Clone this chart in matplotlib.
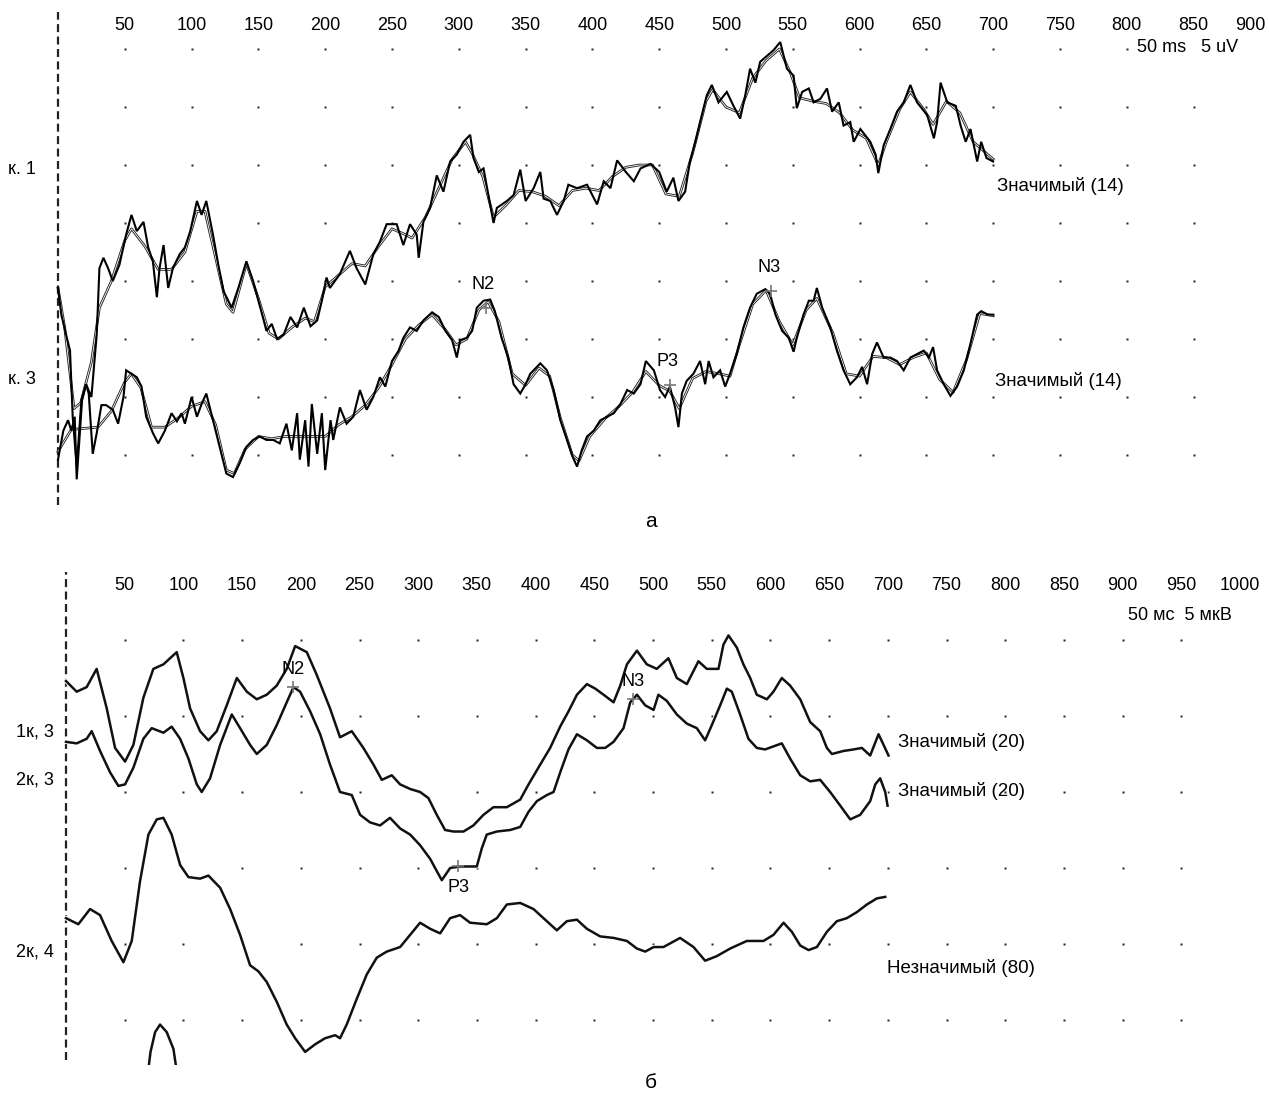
import matplotlib
matplotlib.use("Agg")
import matplotlib.pyplot as plt
import numpy as np

plt.rcParams['font.family'] = ['Liberation Sans', 'DejaVu Sans']

# ---- panel a: time ticks (ms) and grid
top_ticks = [50, 100, 150, 200, 250, 300, 350, 400, 450, 500, 550, 600, 650, 700, 750, 800, 850, 900]
top_grid_ms = list(range(50, 851, 50))
top_grid_uv = [0, 5, 10, 15, 20, 25, 30, 35]

# channel 1 (raw, noisy) : (ms, uV)
k1_raw = [(0, 14.4), (2.5, 12.1), (6, 10.4), (9, 9.0), (11, 3.3), (14, -1.0), (17.5, 4.7), (21, 6.1),
          (25, 5.0), (29, 10.4), (31, 16.1), (34, 17.0), (37.5, 16.1), (41, 15.0), (46, 16.4), (51, 19.0),
          (55, 20.7), (59, 19.3), (64, 20.1), (67.5, 17.9), (71, 16.7), (74, 13.6), (76, 16.1), (79, 18.1),
          (82.5, 14.4), (86, 16.1), (91, 17.3), (95, 17.9), (99, 19.3), (104, 21.9), (107.5, 20.7), (111, 21.9),
          (116, 19.0), (120, 16.4), (124, 14.1), (130, 12.7), (135, 14.4), (141, 16.7), (146, 15.0), (150, 13.3),
          (154, 11.6), (156, 10.7), (160, 11.3), (164, 10.0), (169, 10.4), (174, 11.9), (179, 11.0), (184, 12.7),
          (189, 11.1), (194, 11.6), (197.5, 13.3), (201, 15.3), (203.5, 14.4), (211, 15.6), (218.5, 17.6),
          (223.5, 16.1), (230, 14.7), (236, 17.3), (241, 18.4), (246, 19.9), (253.5, 19.9), (258.5, 18.1),
          (263.5, 19.9), (268.5, 19.0), (270, 17.0), (273.5, 20.1), (278.5, 21.3), (283.5, 24.1), (288.5, 22.7),
          (293.5, 25.3), (298.5, 25.9), (303.5, 27.0), (308.5, 27.6), (311, 25.6), (315, 24.4), (318.5, 24.7),
          (323.5, 21.6), (326, 20.0), (328.5, 21.3), (336, 21.9), (341, 22.4), (346, 24.6), (350, 21.9),
          (356, 23.0), (361, 24.4), (363.5, 22.1), (368.5, 21.9), (373.5, 20.7), (378.5, 21.9), (382, 23.3),
          (388.5, 23.0), (396, 23.3), (403.5, 21.6), (408.5, 23.6), (413.5, 23.0), (418.5, 25.4), (425, 24.4),
          (431, 23.6), (436, 24.7), (443.5, 25.1), (450, 24.4), (455.6, 22.7), (460.6, 23.9), (464.4, 21.9),
          (469.4, 22.7), (473, 25.3), (477, 27.0), (480.6, 28.7), (485.6, 31.0), (489.4, 31.9), (494.4, 30.4),
          (500.6, 31.3), (505.6, 30.1), (510.6, 29.0), (514.4, 31.0), (518, 33.3), (522, 32.1), (525.6, 33.9),
          (530.6, 34.4), (535.6, 34.9), (540.6, 35.6), (545.6, 33.3), (550.6, 32.7), (553, 29.9), (557, 31.3),
          (562, 31.6), (565.6, 30.4), (570.6, 30.7), (575.6, 31.6), (579.4, 29.6), (584.4, 30.4), (588, 28.4),
          (593, 28.7), (595.6, 27.0), (600.6, 28.1), (608, 27.0), (612, 25.9), (614, 24.3), (618, 26.7),
          (623, 28.1), (628, 29.6), (633, 30.4), (638, 31.9), (643, 30.4), (650.6, 29.3), (655.6, 27.3),
          (658, 28.7), (660.6, 32.1), (665.6, 30.4), (672, 30.1), (675.6, 28.4), (679.4, 27.0), (683, 28.1),
          (688, 25.3), (691, 27.0), (695, 25.6), (700, 25.3)]

# channel 1 (smoothed)
k1_smooth = [(0, 14.4), (5, 11), (12, 4), (17, 4.5), (25, 8), (31, 12.7), (40, 15), (50, 18.5), (55, 19.5),
             (65, 18), (75, 16), (85, 16), (95, 17.5), (104, 21), (110, 21), (118, 17), (126, 13), (131, 12.3),
             (141, 16.5), (150, 13.5), (158, 10.5), (165, 10), (175, 11), (185, 11.8), (192, 11.5), (200, 14.5),
             (210, 15.5), (220, 16.5), (230, 16.3), (240, 18), (250, 19.5), (260, 19), (265, 18.7), (275, 20.5),
             (285, 23), (295, 25.5), (305, 27), (310, 26), (318, 24), (326, 20.5), (335, 21.5), (345, 22.8),
             (355, 22.7), (365, 22.3), (375, 21.5), (385, 22.8), (395, 23), (405, 22.8), (415, 24), (425, 24.8),
             (435, 25), (445, 25), (455, 22.5), (465, 22.3), (475, 26), (485, 30.5), (490, 31.5), (500, 30),
             (510, 29.5), (520, 32.5), (530, 34), (540, 35), (548, 33), (555, 30.8), (565, 30.5), (575, 30.3),
             (585, 29.5), (595, 28), (605, 27.3), (614, 25), (620, 27), (630, 29.8), (638, 31.3), (648, 29.8),
             (655, 28.5), (665, 30.5), (675, 29.5), (685, 27), (695, 26), (700, 25.5)]

# channel 3 (raw, noisy)
k3_raw = [(0, -0.4), (4, 2.1), (7.5, 3.0), (10, 2.1), (12.5, 3.3), (14, -2.1), (16, 1.3), (18, 4.7),
          (21, 6.1), (23, 5.3), (26, 0.1), (29, 1.9), (32.5, 4.3), (36, 4.3), (41, 3.9), (45, 2.7), (49, 5.0),
          (51, 7.3), (55, 7.0), (59, 6.7), (62.5, 5.9), (66, 3.3), (71, 1.9), (75, 1.0), (80, 2.1), (85, 3.6),
          (89, 2.9), (92.5, 3.6), (95, 2.7), (100, 5.0), (104, 3.3), (107.5, 4.4), (111, 5.3), (116, 3.0),
          (121, 0.7), (126, -1.6), (131, -1.9), (136, -0.7), (141, 0.7), (146, 1.3), (151, 1.6), (156, 1.3),
          (161, 1.3), (166, 1.0), (171, 2.7), (175, 0.4), (179, 3.6), (181, -0.4), (185, 3.0), (187.5, -1.0),
          (190, 4.4), (194, 0.1), (197.5, 3.6), (200, -1.3), (204, 3.0), (206, 1.3), (211, 4.1), (216, 2.7),
          (221, 3.3), (226, 5.6), (231, 3.9), (236, 5.0), (241, 6.7), (245, 5.9), (250, 8.1), (255, 9.0),
          (258.5, 10.1), (263.5, 11.0), (268.5, 10.7), (273.5, 11.6), (280, 12.3), (285, 11.9), (290, 10.7),
          (295, 9.9), (298.5, 8.4), (301, 9.9), (306, 10.1), (310, 10.7), (313.5, 12.7), (318.5, 13.3),
          (323.5, 13.4), (327, 12.4), (332, 10.1), (337, 8.4), (341, 6.1), (346, 5.3), (350, 6.1), (353.5, 7.0),
          (361, 7.9), (366, 7.3), (371, 5.6), (376, 3.0), (381, 1.3), (385, -0.1), (388.5, -1.0), (392, 0.4),
          (396, 1.6), (401, 2.1), (406, 3.0), (411, 3.3), (416, 3.6), (421, 4.4), (426, 5.6), (431, 5.3),
          (436, 6.1), (440, 8.1), (446, 7.3), (450.6, 5.6), (454.4, 5.0), (458, 5.9), (461.9, 4.1), (464.4, 2.4),
          (467, 5.3), (470.6, 6.4), (475.6, 7.0), (480.6, 8.1), (484.4, 6.1), (487, 8.1), (490.6, 6.7),
          (495.6, 7.3), (499.4, 5.9), (503, 7.0), (508, 8.7), (513, 11.0), (518, 12.7), (523, 13.9),
          (529.4, 14.3), (533, 13.9), (537, 12.1), (542, 10.7), (547, 10.1), (550.6, 8.9), (553, 10.1),
          (558, 12.1), (562, 13.3), (565.6, 13.3), (568, 14.4), (572, 12.7), (578, 11.0), (583, 9.0), (588, 7.3),
          (593, 6.1), (598, 6.7), (601.9, 7.6), (605.6, 6.1), (609.4, 8.7), (613, 9.7), (618, 8.4), (623, 8.4),
          (628, 8.1), (633, 7.3), (638, 8.4), (643, 8.7), (648, 9.0), (651.9, 8.4), (655, 9.3), (658, 7.3),
          (663, 6.1), (668, 5.1), (673, 5.9), (678, 7.3), (683, 9.6), (688, 12.1), (691, 12.4), (696, 12.1),
          (700, 12.1)]

# channel 3 (smoothed)
k3_smooth = [(0, 0.3), (10, 2.2), (20, 2.3), (30, 2.4), (40, 3.8), (50, 6.3), (55, 7), (62, 5.8), (70, 2.4),
             (80, 2.4), (90, 3.2), (100, 4.2), (110, 4.6), (118, 2.6), (126, -1.3), (132, -1.6), (140, 0.5),
             (150, 1.6), (160, 1.4), (170, 1.6), (180, 1.6), (190, 1.6), (200, 1.6), (210, 2.6), (220, 3.3),
             (230, 4.3), (240, 5.8), (250, 7.8), (260, 10), (270, 11.2), (280, 12.1), (290, 10.8), (298, 9.5),
             (306, 10), (315, 12.5), (322, 13.2), (330, 11.5), (340, 7), (350, 6), (360, 7.5), (368, 6.8),
             (376, 3.2), (385, 0), (390, -0.5), (398, 1.6), (410, 3.2), (420, 4.2), (430, 5.4), (440, 7.2),
             (450, 6), (458, 5.5), (465, 4), (475, 6.6), (485, 7.2), (495, 7), (503, 6.8), (510, 9.5), (520, 13),
             (530, 14.2), (540, 11.5), (550, 9.5), (560, 12.5), (568, 13.5), (580, 10.5), (590, 7), (600, 6.8),
             (610, 8.5), (620, 8.4), (630, 7.8), (640, 8.4), (650, 8.8), (660, 6.5), (670, 5.4), (680, 8.2),
             (690, 12.2), (700, 12)]

top_peaks = [("N2", 320, 12.7), ("P3", 458, 6.0), ("N3", 534, 14.1)]

# ---- panel b
bot_ticks = [50, 100, 150, 200, 250, 300, 350, 400, 450, 500, 550, 600, 650, 700, 750, 800, 850, 900, 950, 1000]
bot_grid_ms = list(range(50, 951, 50))
bot_grid_uv = [0, 5, 10, 15, 20, 25]

c13 = [(0, 22.3), (9.1, 21.6), (17.6, 21.9), (26.1, 23.1), (34.7, 20.5), (41.8, 17.9), (50.3, 17.0),
       (57.4, 18.1), (65.9, 21.2), (74.4, 23.1), (83, 23.4), (94.3, 24.2), (100, 22.5), (105.7, 20.5),
       (114.2, 19.0), (121.3, 18.4), (128.4, 19.0), (136.9, 20.7), (145.5, 22.5), (154, 21.6), (162.5, 21.1),
       (171, 21.4), (179.5, 22.0), (188, 23.1), (195.2, 24.6), (205.1, 24.2), (213.6, 22.7), (224.9, 20.5),
       (233.4, 18.6), (243.4, 19.0), (253.3, 17.9), (261.9, 16.8), (269, 15.8), (277.5, 16.1), (284.6, 15.5),
       (293.1, 15.2), (301.6, 15.0), (308.7, 14.6), (315.8, 13.5), (322.9, 12.5), (330, 12.4), (338.6, 12.4),
       (347, 12.8), (355.6, 13.5), (364.1, 14.0), (375.5, 14.0), (386.9, 14.5), (394, 15.5), (403.9, 16.8),
       (412.4, 17.9), (420.9, 19.3), (428, 20.3), (435.2, 21.4), (443.7, 22.1), (450.8, 21.8), (457.9, 21.4),
       (466.4, 20.9), (472.1, 22.0), (477.8, 23.4), (486.3, 24.3), (494.7, 23.4), (503.2, 23.1), (513.1, 23.8),
       (520.3, 22.5), (528.8, 22.1), (538.7, 23.6), (545.8, 23.1), (555.8, 23.1), (560, 24.7), (564.3, 25.3),
       (571.4, 24.5), (577, 23.4), (582.8, 22.5), (588.4, 21.4), (597, 21.1), (602.6, 21.6), (609.7, 22.5),
       (616.8, 22.0), (625.4, 21.1), (633.9, 19.6), (642.4, 19.0), (648.1, 17.9), (652.4, 17.5), (662.3, 17.7),
       (670.8, 17.8), (677.9, 17.9), (685, 17.4), (692.1, 18.8), (696.4, 18.1), (700.6, 17.4)]

c23 = [(0, 18.3), (9.1, 18.2), (17.6, 18.5), (21.9, 19.0), (29, 17.7), (37.5, 16.3), (44.6, 15.4), (50.3, 15.5),
       (57.4, 16.6), (65.9, 18.5), (73, 19.2), (83, 18.9), (90, 19.3), (97.2, 18.5), (104.3, 17.2), (111.4, 15.5),
       (115.6, 15.0), (122.7, 15.9), (131.3, 18.1), (141.2, 20.1), (148.3, 19.2), (156.8, 18.1), (162.5, 17.5),
       (171, 18.1), (179.5, 19.4), (188, 20.9), (193.8, 21.9), (199.4, 21.6), (208, 20.3), (216.5, 18.8),
       (224.9, 16.8), (233.4, 15.0), (243.4, 14.8), (250.5, 13.5), (259, 13.0), (267.5, 12.8), (276, 13.3),
       (284.6, 12.6), (293.1, 12.2), (301.6, 11.5), (310.2, 10.6), (315.8, 9.8), (320.1, 9.2), (327.2, 10.0),
       (335.7, 10.1), (349.9, 10.1), (354.2, 11.3), (358.4, 12.2), (367, 12.4), (378.3, 12.5), (386.9, 12.7),
       (394, 13.7), (401.1, 14.4), (409.6, 14.8), (415.3, 15.0), (421, 16.3), (428, 17.8), (435.2, 18.8),
       (443.7, 18.4), (452.2, 17.9), (459.3, 17.9), (466.4, 18.3), (474.9, 19.2), (480.6, 20.9), (486.3, 21.4),
       (493.4, 20.7), (500.5, 20.4), (504.6, 21.4), (511.7, 21.0), (520.3, 20.1), (528.8, 19.5), (537.3, 19.2),
       (544.4, 18.4), (550.1, 19.4), (557.2, 20.7), (562.9, 21.8), (567.1, 21.6), (574.2, 20.1), (581.3, 18.5),
       (588.4, 17.9), (595.5, 17.8), (602.6, 18.0), (609.7, 18.2), (616.8, 17.2), (625.4, 16.1), (633.9, 15.7),
       (642.4, 15.8), (650.9, 15.0), (659.5, 14.1), (668, 13.2), (676.5, 13.5), (685, 14.4), (689.3, 15.5),
       (693.5, 15.9), (697.8, 15.0), (699.8, 14.1)]

c24 = [(0, 6.7), (10.5, 6.3), (20.5, 7.3), (29, 6.9), (38.9, 5.2), (48.9, 3.8), (56, 5.2), (63, 9.1), (70.2, 12.2),
       (77.3, 13.2), (83, 13.3), (90, 12.2), (97.2, 10.2), (104.3, 9.4), (114.2, 9.3), (121.3, 9.5), (131.3, 8.7),
       (139.8, 7.3), (148.3, 5.6), (156.8, 3.6), (163.9, 3.2), (171, 2.5), (179.5, 1.2), (188, -0.3),
       (195.2, -1.2), (203.7, -2.1), (212.2, -1.6), (220.7, -1.2), (229.3, -1.0), (233.4, -1.2), (239.1, -0.3),
       (247.7, 1.4), (256.2, 3.0), (264.7, 4.1), (273.2, 4.5), (284.6, 4.8), (293.1, 5.6), (301.6, 6.4),
       (310.2, 6.0), (318.7, 5.7), (327.2, 6.7), (335.7, 6.9), (344.2, 6.4), (358.4, 6.3), (367, 6.7),
       (375.5, 7.6), (386.9, 7.7), (398.2, 7.3), (406.7, 6.7), (418.1, 5.9), (426.6, 6.5), (435.2, 6.6),
       (443.7, 6.0), (455, 5.5), (466.4, 5.4), (477.8, 5.2), (486.3, 4.7), (493.4, 4.5), (500.5, 4.8),
       (508.9, 4.8), (523.1, 5.4), (534.5, 4.8), (544.4, 3.9), (554.3, 4.2), (565.7, 4.7), (579.9, 5.2),
       (594.1, 5.2), (602.6, 5.6), (611.2, 6.4), (618.3, 5.8), (625.4, 4.9), (632.5, 4.6), (639.6, 4.8),
       (648.1, 5.8), (656.6, 6.5), (665.1, 6.7), (673.7, 7.1), (682.2, 7.6), (690.7, 8.0), (697.8, 8.1)]

# piece of a further trace entering from below
c_extra = [(70.2, -3.2), (72, -2.1), (75.9, -0.8), (80.1, -0.3), (85.8, -0.8), (91.5, -1.9), (94, -3.2)]

bot_peaks = [("N2", 193, 21.9), ("P3", 334, 10.1), ("N3", 483, 21.1)]


W, H = 1269, 1097
fig = plt.figure(figsize=(W / 100, H / 100), dpi=100)


def fx(x):
    return x / W


def fy(y):
    return 1 - y / H


def xy(pairs):
    a = np.array(pairs, dtype=float)
    return a[:, 0], a[:, 1]


def grid_dots(ax, cols, rows, skip=()):
    for r in rows:
        xs = [c for c in cols if (c, r) not in skip]
        ax.plot(xs, [r] * len(xs), ls="none", marker="s", ms=1.8, color="#222222", mec="none")


def smooth_line(ax, pairs):
    x, y = xy(pairs)
    ax.plot(x, y, color="#222222", lw=1.9, solid_joinstyle="round")
    ax.plot(x, y, color="white", lw=0.6)


# ================= panel a =================
ax1 = fig.add_axes([0, fy(510), 1, 510 / H])
ax1.set_xlim(-58 / 1.336, (W - 58) / 1.336)
ax1.set_ylim((455 - 510) / 11.6, 455 / 11.6)
ax1.axis("off")

grid_dots(ax1, top_grid_ms, top_grid_uv, skip={(850, 35)})
ax1.plot([0, 0], [(455 - 505) / 11.6, (455 - 12) / 11.6], color="#222222", lw=1.6, ls=(0, (3.6, 2.0)))

for tr in (k1_smooth, k3_smooth):
    smooth_line(ax1, tr)
for tr in (k1_raw, k3_raw):
    x, y = xy(tr)
    ax1.plot(x, y, color="black", lw=1.5, solid_joinstyle="miter")

for name, t, v in top_peaks:
    ax1.plot(t, v, marker="+", ms=8, mew=1.2, color="#777777")
    ax1.text(t - 2, v + 1.3, name, fontsize=13, ha="center", va="bottom")

for t in top_ticks:
    if t == top_ticks[-1]:
        ax1.text(t + 4, (455 - 25) / 11.6, str(t), fontsize=13, ha="right", va="center")
    else:
        ax1.text(t, (455 - 25) / 11.6, str(t), fontsize=13, ha="center", va="center")
ax1.text((1137 - 58) / 1.336, (455 - 48) / 11.6, "50 ms   5 uV", fontsize=13, ha="left", va="center")

fig.text(fx(8), fy(170), "к. 1", fontsize=13, va="center", ha="left")
fig.text(fx(8), fy(380), "к. 3", fontsize=13, va="center", ha="left")
fig.text(fx(997), fy(186), "Значимый (14)", fontsize=13.5, va="center", ha="left")
fig.text(fx(995), fy(381), "Значимый (14)", fontsize=13.5, va="center", ha="left")
fig.text(fx(651), fy(521), "а", fontsize=15, va="center", ha="center")

# ================= panel b =================
ax2 = fig.add_axes([0, fy(1065), 1, 505 / H])
ax2.set_xlim(-66 / 1.174, (W - 66) / 1.174)
ax2.set_ylim((1020 - 1065) / 15.2, (1020 - 560) / 15.2)
ax2.axis("off")

grid_dots(ax2, bot_grid_ms, bot_grid_uv)
ax2.plot([0, 0], [(1020 - 1060) / 15.2, (1020 - 572) / 15.2], color="#222222", lw=1.6, ls=(0, (3.6, 2.0)))

for tr in (c13, c23, c24, c_extra):
    x, y = xy(tr)
    ax2.plot(x, y, color="white", lw=3.2)
    ax2.plot(x, y, color="#111111", lw=1.8, solid_joinstyle="round")

for name, t, v in bot_peaks:
    ax2.plot(t, v, marker="+", ms=8, mew=1.2, color="#777777")
for name, t, v in bot_peaks:
    if name == "P3":
        ax2.text(t, v - 0.8, name, fontsize=13, ha="center", va="top")
    else:
        ax2.text(t, v + 0.6, name, fontsize=13, ha="center", va="bottom")

for t in bot_ticks:
    ax2.text(t, (1020 - 586) / 15.2, str(t), fontsize=13, ha="center", va="center")
ax2.text((1128 - 66) / 1.174, (1020 - 616) / 15.2, "50 мс  5 мкВ", fontsize=13, ha="left", va="center")

fig.text(fx(16), fy(732), "1к, 3", fontsize=13, va="center", ha="left")
fig.text(fx(16), fy(780), "2к, 3", fontsize=13, va="center", ha="left")
fig.text(fx(16), fy(952), "2к, 4", fontsize=13, va="center", ha="left")
fig.text(fx(898), fy(742), "Значимый (20)", fontsize=13.5, va="center", ha="left")
fig.text(fx(898), fy(791), "Значимый (20)", fontsize=13.5, va="center", ha="left")
fig.text(fx(887), fy(968), "Незначимый (80)", fontsize=13.5, va="center", ha="left")
fig.text(fx(651), fy(1083), "б", fontsize=15, va="center", ha="center")

fig.savefig("out.png", dpi=100)
